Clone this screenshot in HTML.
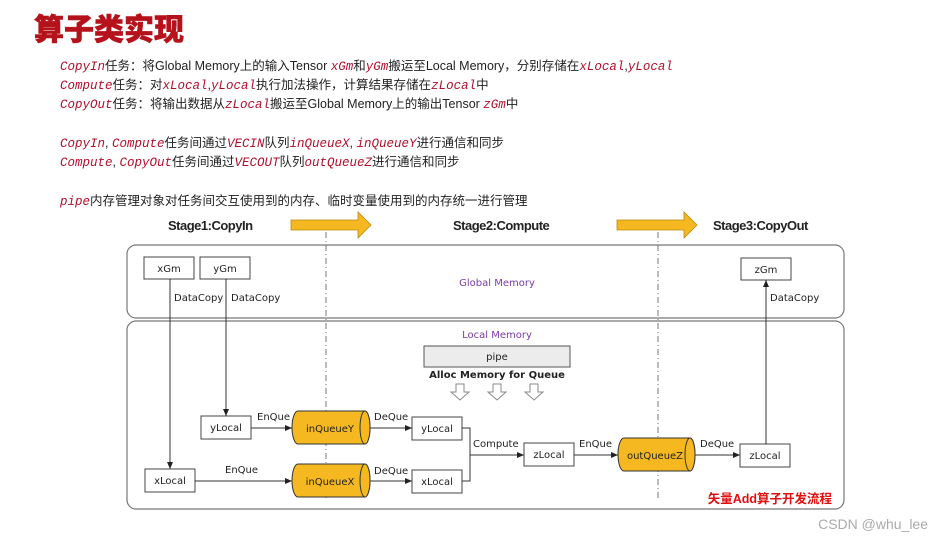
<!DOCTYPE html>
<html><head><meta charset="utf-8"><style>
html,body{margin:0;padding:0;background:#fff;width:932px;height:539px;overflow:hidden}
svg{display:block}
.t{font-family:"Liberation Sans","Noto Sans CJK SC",sans-serif;font-size:12.5px;fill:#222}
.c{font-family:"Liberation Mono",monospace;font-style:italic;fill:#b0102a}
.d{font-family:"DejaVu Sans",sans-serif;font-size:10px;fill:#222}
.s{font-family:"Liberation Sans",sans-serif;font-size:13px;font-weight:bold;fill:#222;letter-spacing:-0.5px}
</style></head><body>
<svg width="932" height="539" viewBox="0 0 932 539" xmlns="http://www.w3.org/2000/svg">
<defs><marker id="a" markerWidth="8" markerHeight="8" refX="7" refY="4" orient="auto" markerUnits="userSpaceOnUse"><path d="M0,1 L7,4 L0,7z" fill="#222"/></marker></defs>
<text x="34" y="40" font-family="Liberation Sans,Noto Sans CJK SC,sans-serif" font-size="30" font-weight="900" fill="#b5121b" stroke="#b5121b" stroke-width="0.6">算子类实现</text>
<text class="t" x="60" y="70"><tspan class="c">CopyIn</tspan>任务：将Global Memory上的输入Tensor <tspan class="c">xGm</tspan>和<tspan class="c">yGm</tspan>搬运至Local Memory，分别存储在<tspan class="c">xLocal</tspan>,<tspan class="c">yLocal</tspan></text>
<text class="t" x="60" y="89"><tspan class="c">Compute</tspan>任务：对<tspan class="c">xLocal</tspan>,<tspan class="c">yLocal</tspan>执行加法操作，计算结果存储在<tspan class="c">zLocal</tspan>中</text>
<text class="t" x="60" y="108"><tspan class="c">CopyOut</tspan>任务：将输出数据从<tspan class="c">zLocal</tspan>搬运至Global Memory上的输出Tensor <tspan class="c">zGm</tspan>中</text>
<text class="t" x="60" y="147"><tspan class="c">CopyIn</tspan>, <tspan class="c">Compute</tspan>任务间通过<tspan class="c">VECIN</tspan>队列<tspan class="c">inQueueX</tspan>, <tspan class="c">inQueueY</tspan>进行通信和同步</text>
<text class="t" x="60" y="166"><tspan class="c">Compute</tspan>, <tspan class="c">CopyOut</tspan>任务间通过<tspan class="c">VECOUT</tspan>队列<tspan class="c">outQueueZ</tspan>进行通信和同步</text>
<text class="t" x="60" y="205"><tspan class="c">pipe</tspan>内存管理对象对任务间交互使用到的内存、临时变量使用到的内存统一进行管理</text>

<text class="s" x="168" y="230">Stage1:CopyIn</text>
<text class="s" x="453" y="230">Stage2:Compute</text>
<text class="s" x="713" y="230">Stage3:CopyOut</text>
<path d="M291,220 H358 V212 L371,225 L358,238 V230 H291z" fill="#f5b820" stroke="#b88a10" stroke-width="0.8"/>
<path d="M617,220 H684 V212 L697,225 L684,238 V230 H617z" fill="#f5b820" stroke="#b88a10" stroke-width="0.8"/>

<rect x="127" y="245" width="717" height="73" rx="9" fill="none" stroke="#777" stroke-width="1.2"/>
<rect x="127" y="321" width="717" height="188" rx="9" fill="none" stroke="#777" stroke-width="1.2"/>
<line x1="326" y1="232" x2="326" y2="498" stroke="#777" stroke-dasharray="6,3,1,3"/>
<line x1="658" y1="232" x2="658" y2="498" stroke="#777" stroke-dasharray="6,3,1,3"/>

<g fill="#fff" stroke="#444" stroke-width="1">
<rect x="144" y="257" width="50" height="22"/><rect x="200" y="257" width="50" height="22"/>
<rect x="741" y="258" width="50" height="22"/>
<rect x="201" y="416" width="50" height="23"/><rect x="412" y="417" width="50" height="23"/>
<rect x="145" y="469" width="50" height="23"/><rect x="412" y="470" width="50" height="23"/>
<rect x="524" y="443" width="50" height="23"/><rect x="740" y="444" width="50" height="23"/>
</g>
<rect x="424" y="346" width="146" height="21" fill="#ececec" stroke="#555"/>
<text class="d" x="497" y="360" text-anchor="middle" font-size="11">pipe</text>
<text class="d" x="497" y="378" text-anchor="middle" font-weight="bold" font-size="9.5">Alloc Memory for Queue</text>
<g fill="#fff" stroke="#888"><path d="M456,384 h8 v8 h5 l-9,8 l-9,-8 h5z"/><path d="M493,384 h8 v8 h5 l-9,8 l-9,-8 h5z"/><path d="M530,384 h8 v8 h5 l-9,8 l-9,-8 h5z"/></g>

<g fill="#f5b820" stroke="#333" stroke-width="1">
<path d="M298,411 H365 A5,16.5 0 0 1 365,444 H298 A6,16.5 0 0 1 298,411z"/><ellipse cx="365" cy="427.5" rx="5" ry="16.5"/>
<path d="M298,464 H365 A5,16.5 0 0 1 365,497 H298 A6,16.5 0 0 1 298,464z"/><ellipse cx="365" cy="480.5" rx="5" ry="16.5"/>
<path d="M624,438 H690 A5,16.5 0 0 1 690,471 H624 A6,16.5 0 0 1 624,438z"/><ellipse cx="690" cy="454.5" rx="5" ry="16.5"/>
</g>
<g class="d" text-anchor="middle" font-size="10.5">
<text x="169" y="272">xGm</text><text x="225" y="272">yGm</text><text x="766" y="273">zGm</text>
<text x="226" y="431">yLocal</text><text x="437" y="432">yLocal</text>
<text x="170" y="484">xLocal</text><text x="437" y="485">xLocal</text>
<text x="549" y="458">zLocal</text><text x="765" y="459">zLocal</text>
<text x="330" y="432">inQueueY</text><text x="330" y="485">inQueueX</text><text x="655" y="459">outQueueZ</text>
</g>
<g class="d">
<text x="174" y="301">DataCopy</text><text x="231" y="301">DataCopy</text><text x="770" y="301">DataCopy</text>
<text x="257" y="420">EnQue</text><text x="374" y="420">DeQue</text>
<text x="225" y="473">EnQue</text><text x="374" y="474">DeQue</text>
<text x="473" y="447">Compute</text><text x="579" y="447">EnQue</text><text x="700" y="447">DeQue</text>
</g>
<text x="497" y="286" text-anchor="middle" font-family="DejaVu Sans,sans-serif" font-size="10" fill="#7a3aa8">Global Memory</text>
<text x="497" y="338" text-anchor="middle" font-family="DejaVu Sans,sans-serif" font-size="10" fill="#7a3aa8">Local Memory</text>

<g stroke="#333" stroke-width="1" fill="none" marker-end="url(#a)">
<line x1="170" y1="279" x2="170" y2="469"/><line x1="226" y1="279" x2="226" y2="416"/>
<line x1="251" y1="428" x2="292" y2="428"/><line x1="195" y1="481" x2="292" y2="481"/>
<line x1="370" y1="428" x2="412" y2="428"/><line x1="370" y1="481" x2="412" y2="481"/>
<line x1="470" y1="455" x2="524" y2="455"/><line x1="574" y1="455" x2="618" y2="455"/>
<line x1="695" y1="455" x2="740" y2="455"/><line x1="766" y1="444" x2="766" y2="280"/>
</g>
<path d="M462,428 H470 V481 H462" fill="none" stroke="#333"/>
<text x="832" y="503" text-anchor="end" font-family="Liberation Sans,Noto Sans CJK SC,sans-serif" font-size="12.5" font-weight="bold" fill="#e01010">矢量Add算子开发流程</text>
<text x="928" y="529" text-anchor="end" font-family="Liberation Sans,sans-serif" font-size="14" fill="#aaa">CSDN @whu_lee</text>
</svg>
</body></html>
